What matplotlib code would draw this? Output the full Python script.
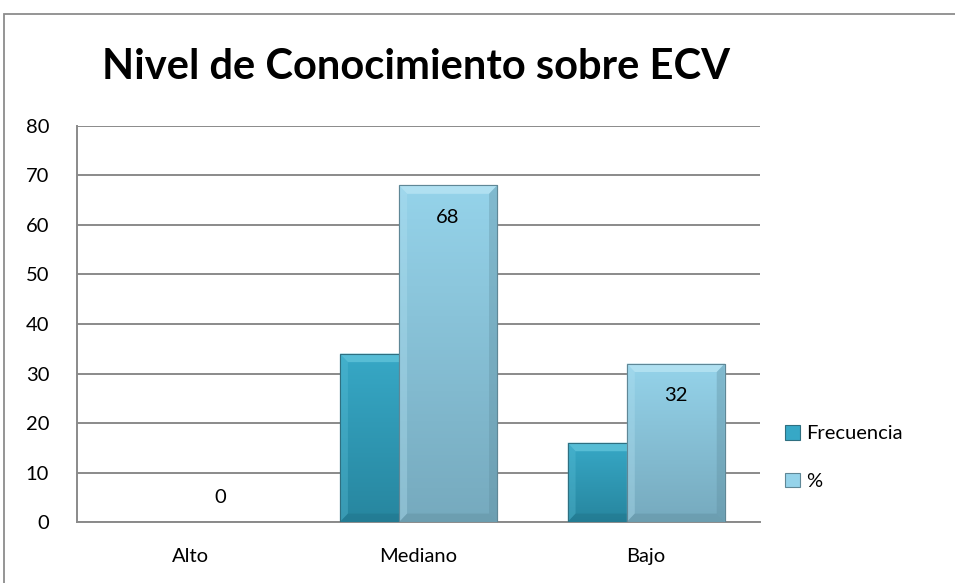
import numpy as np
import matplotlib.pyplot as plt
from matplotlib.patches import Rectangle, Polygon
from matplotlib.colors import LinearSegmentedColormap

categories = ["Alto", "Mediano", "Bajo"]
frecuencia = [0, 34, 16]
porcentaje = [0, 68, 32]
series_names = ["Frecuencia", "%"]

plt.rcParams['font.family'] = ['Lato', 'DejaVu Sans']

fig = plt.figure(figsize=(9.55, 5.83), dpi=100)
ax = fig.add_axes([0.0806, 0.1046, 0.7152, 0.6793])

# outer chart border (cut off at right / bottom like the source)
fig.patches.append(Rectangle((4 / 955, -0.2), 1.2, 1 - 14 / 583 + 0.2,
                             transform=fig.transFigure, fill=False,
                             edgecolor="#8c8c8c", lw=1.3, zorder=0))

x = np.arange(len(categories))
w = 0.43
offs = 0.13

styles = [
    dict(top="#37A8C6", bottom="#27869F", bevel_light="#5BC0D8", bevel_dark="#1F6F85", edge="#2f6f80"),
    dict(top="#95D3EA", bottom="#76AABE", bevel_light="#B4E2F2", bevel_dark="#5D8C9D", edge="#5f8796"),
]

def fancy_bar(ax, xc, h, st, z):
    if h <= 0:
        return
    x0 = xc - w / 2
    rect = Rectangle((x0, 0), w, h, facecolor=st["bottom"], edgecolor=st["edge"], lw=0.8, zorder=z)
    ax.add_patch(rect)
    cmap = LinearSegmentedColormap.from_list("g", [st["bottom"], st["top"]])
    grad = np.linspace(0, 1, 100).reshape(-1, 1)
    im = ax.imshow(grad, cmap=cmap, extent=(x0, x0 + w, 0, h), origin="lower",
                   aspect="auto", zorder=z + 0.1)
    im.set_clip_path(rect)
    bx, by = 0.035, 1.7
    # top bevel
    ax.add_patch(Polygon([(x0, h), (x0 + w, h), (x0 + w - bx, h - by), (x0 + bx, h - by)],
                         closed=True, facecolor=st["bevel_light"], edgecolor="none", alpha=0.9, zorder=z + 0.2))
    # left bevel
    ax.add_patch(Polygon([(x0, h), (x0 + bx, h - by), (x0 + bx, by), (x0, 0)],
                         closed=True, facecolor=st["bevel_light"], edgecolor="none", alpha=0.35, zorder=z + 0.2))
    # right bevel
    ax.add_patch(Polygon([(x0 + w, h), (x0 + w - bx, h - by), (x0 + w - bx, by), (x0 + w, 0)],
                         closed=True, facecolor=st["bevel_dark"], edgecolor="none", alpha=0.35, zorder=z + 0.2))
    # bottom bevel
    ax.add_patch(Polygon([(x0, 0), (x0 + bx, by), (x0 + w - bx, by), (x0 + w, 0)],
                         closed=True, facecolor=st["bevel_dark"], edgecolor="none", alpha=0.4, zorder=z + 0.2))
    ax.add_patch(Rectangle((x0, 0), w, h, fill=False, edgecolor=st["edge"], lw=0.8, zorder=z + 0.3))

for i, (f, p) in enumerate(zip(frecuencia, porcentaje)):
    fancy_bar(ax, x[i] - offs, f, styles[0], 3)
    fancy_bar(ax, x[i] + offs, p, styles[1], 4)

# data labels on the % series
for i, p in enumerate(porcentaje):
    dy = -32 if p > 0 else 25
    ax.annotate(str(p), (x[i] + offs, p), xytext=(0, dy), textcoords="offset pixels",
                ha="center", va="center", fontsize=14.5, color="black", zorder=6)

ax.set_xlim(-0.5, 2.5)
ax.set_ylim(0, 80)
ax.set_yticks(range(0, 81, 10))
ax.set_xticks(x)
ax.set_xticklabels(categories)
ax.tick_params(axis="both", length=0, labelsize=14.5)
ax.tick_params(axis="y", pad=20)
ax.tick_params(axis="x", pad=19)
ax.grid(axis="y", color="#8a8a8a", lw=1.4, zorder=1)
ax.set_axisbelow(True)
for s in ["top", "right"]:
    ax.spines[s].set_visible(False)
for s in ["left", "bottom"]:
    ax.spines[s].set_color("#8a8a8a")
    ax.spines[s].set_linewidth(1.4)

fig.text(0.436, 0.885, "Nivel de Conocimiento sobre ECV", ha="center", va="center",
         fontsize=30, fontweight="bold")

handles = [Rectangle((0, 0), 1, 1, facecolor=st["top"], edgecolor=st["edge"], lw=0.8) for st in styles]
fig.legend(handles, series_names, loc="upper left", bbox_to_anchor=(0.803, 0.302),
           frameon=False, fontsize=14.5, handlelength=0.75, handleheight=0.75,
           handletextpad=0.3, labelspacing=1.5)

fig.savefig("out.png", dpi=100)
